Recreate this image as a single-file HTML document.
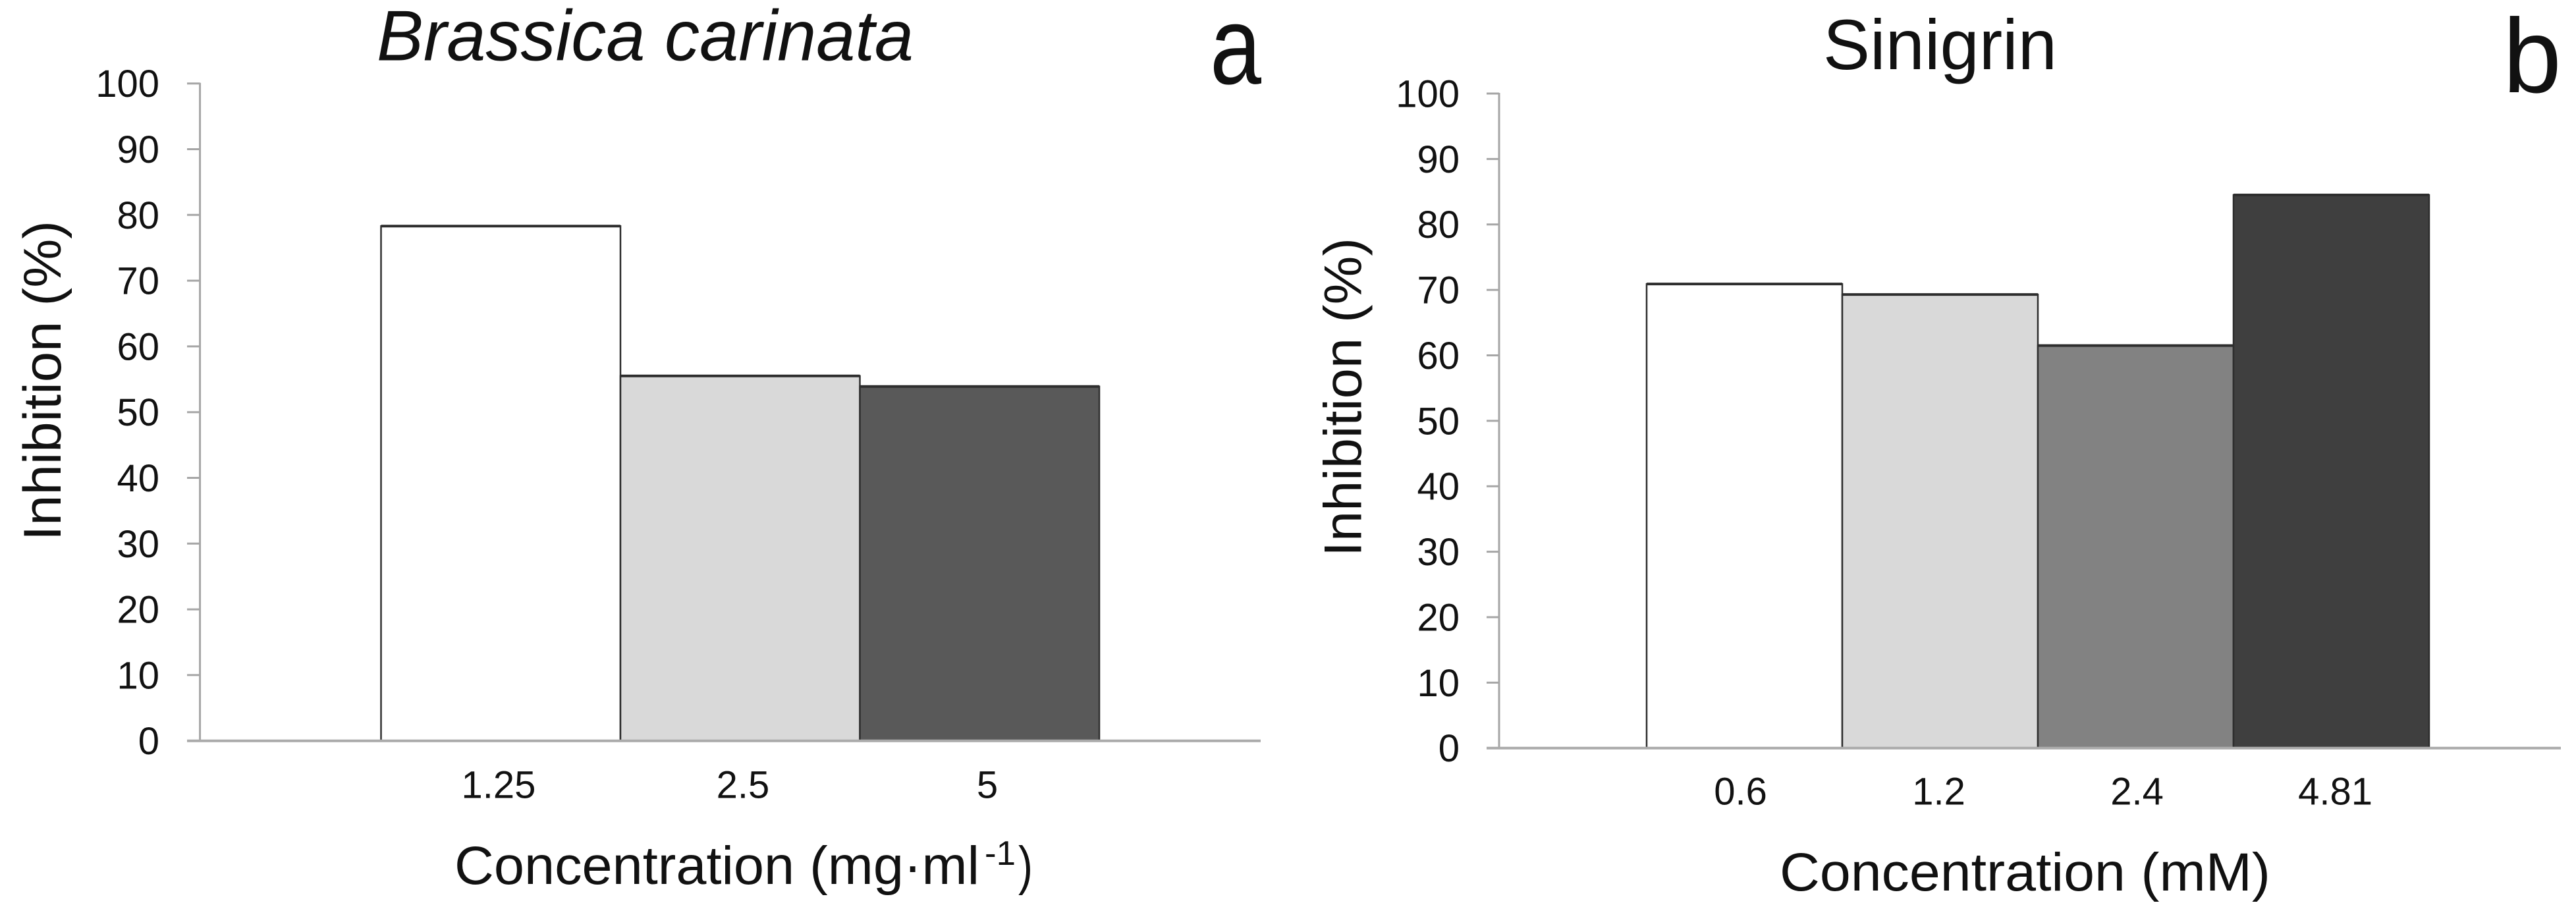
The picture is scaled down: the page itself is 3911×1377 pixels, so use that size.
<!DOCTYPE html>
<html lang="en">
<head>
<meta charset="utf-8">
<title>Inhibition by Brassica carinata and Sinigrin</title>
<style>
  html, body { margin: 0; padding: 0; background: #fff; }
  svg { display: block; }
  text { font-family: "Liberation Sans", sans-serif; fill: #111; }
</style>
</head>
<body>
<svg id="figure" xmlns="http://www.w3.org/2000/svg" width="3911" height="1377" viewBox="0 0 3911 1377">
  <rect width="3911" height="1377" fill="#ffffff"/>

  <g id="panel-a"></g>
  <g id="panel-b"></g>

  <text x="572" y="91.5" font-size="109" font-style="italic" textLength="815" lengthAdjust="spacingAndGlyphs">Brassica carinata</text>
  <text x="1837" y="127" font-size="168" textLength="78" lengthAdjust="spacingAndGlyphs">a</text>
  <text transform="translate(92,816) rotate(-90)" x="-5" y="0" font-size="81" textLength="486" lengthAdjust="spacingAndGlyphs">Inhibition (%)</text>
  <g>
    <text x="690" y="1342" font-size="82" textLength="797" lengthAdjust="spacingAndGlyphs">Concentration (mg·ml</text>
    <text x="1495" y="1313" font-size="52" textLength="47" lengthAdjust="spacingAndGlyphs">-1</text>
    <text x="1546" y="1342" font-size="82" textLength="22" lengthAdjust="spacingAndGlyphs">)</text>
  </g>

  <text x="2768" y="105" font-size="108" textLength="355" lengthAdjust="spacingAndGlyphs">Sinigrin</text>
  <text x="3800" y="140" font-size="160">b</text>
  <text transform="translate(2066.5,840) rotate(-90)" x="-5" y="0" font-size="81" textLength="484" lengthAdjust="spacingAndGlyphs">Inhibition (%)</text>
  <text x="2702" y="1352" font-size="82" textLength="745" lengthAdjust="spacingAndGlyphs">Concentration (mM)</text>
</svg>

<script>
const categoriesA = ['1.25', '2.5', '5'];
const inhibitionA = [78.3, 55.5, 53.9];
const categoriesB = ['0.6', '1.2', '2.4', '4.81'];
const inhibitionB = [70.9, 69.3, 61.5, 84.5];
const yTickValues = [0, 10, 20, 30, 40, 50, 60, 70, 80, 90, 100];
const fillsA = ['#ffffff', '#d9d9d9', '#595959'];
const fillsB = ['#ffffff', '#d9d9d9', '#828282', '#3f3f3f'];

const SVG_NS = 'http://www.w3.org/2000/svg';

function createNode(tag, attrs, parent) {
  const node = document.createElementNS(SVG_NS, tag);
  Object.keys(attrs).forEach(function (key) { node.setAttribute(key, attrs[key]); });
  parent.appendChild(node);
  return node;
}

function drawPanel(groupId, prefix, categories, values, fills, layout) {
  const group = document.getElementById(groupId);
  const yScale = function (v) { return layout.yZero - v * (layout.yZero - layout.yFull) / 100; };
  const bandX = function (i) { return layout.bandStart + i * layout.bandStep; };
  const labelX = function (i) { return layout.labelStart + i * layout.labelStep; };

  const yAxis = createNode('line', { x1: layout.axisX, x2: layout.axisX, y1: yScale(100) - 1, y2: yScale(0), stroke: '#a6a6a6', 'stroke-width': 3 }, group);
  
  

  yTickValues.forEach(function (v) {
    const tick = createNode('line', { x1: layout.tickStart, x2: layout.axisX, y1: yScale(v), y2: yScale(v), stroke: '#a6a6a6', 'stroke-width': 3 }, group);
    
    

    const label = createNode('text', { x: layout.yLabelRight, y: yScale(v) + 20.5, 'font-size': 58, 'text-anchor': 'end' }, group);
    
    
    label.textContent = String(v);
  });

  values.forEach(function (value, i) {
    const left = bandX(i);
    const top = yScale(value);
    const bar = createNode('rect', { x: left, y: top, width: layout.bandStep, height: yScale(0) - top, fill: fills[i], stroke: '#2e2e2e', 'stroke-width': 2.5 }, group);
    
    

    const cap = createNode('line', { x1: left, x2: left + layout.bandStep, y1: top, y2: top, stroke: '#2e2e2e', 'stroke-width': 4 }, group);
    
    

    const label = createNode('text', { x: labelX(i), y: layout.xLabelBaseline, 'font-size': 58, 'text-anchor': 'middle' }, group);
    
    
    label.textContent = categories[i];
  });

  const xAxis = createNode('line', { x1: layout.tickStart, x2: layout.xAxisEnd, y1: yScale(0), y2: yScale(0), stroke: '#ababab', 'stroke-width': 4 }, group);
  
  
}

drawPanel('panel-a', 'panel-a', categoriesA, inhibitionA, fillsA, {
  axisX: 303.6, tickStart: 284, xAxisEnd: 1914, yZero: 1124.7, yFull: 126.7,
  bandStart: 578.5, bandStep: 363.5, yLabelRight: 242, xLabelBaseline: 1211.7,
  labelStart: 757, labelStep: 371
});

drawPanel('panel-b', 'panel-b', categoriesB, inhibitionB, fillsB, {
  axisX: 2276, tickStart: 2257, xAxisEnd: 3888, yZero: 1135.7, yFull: 142,
  bandStart: 2500, bandStep: 297, yLabelRight: 2216, xLabelBaseline: 1221.7,
  labelStart: 2642.6, labelStep: 301
});
</script>
</body>
</html>
